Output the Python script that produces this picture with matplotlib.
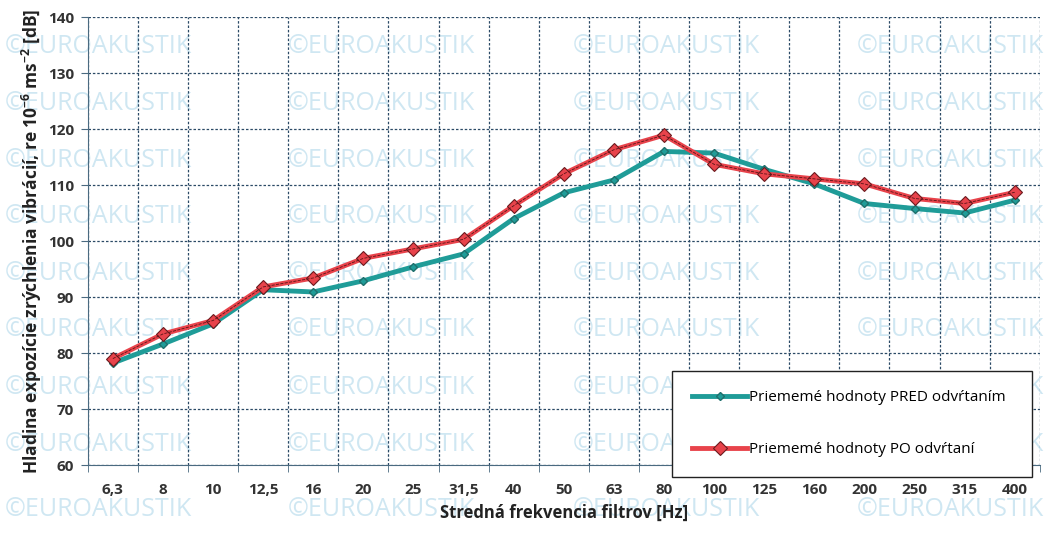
import numpy as np
import matplotlib
matplotlib.use('Agg')
import matplotlib.pyplot as plt

freq_labels = ['6,3', '8', '10', '12,5', '16', '20', '25', '31,5', '40', '50',
               '63', '80', '100', '125', '160', '200', '250', '315', '400']
pred = [78.2, 81.6, 85.2, 91.3, 90.9, 92.9, 95.4, 97.7, 104.0, 108.6,
        110.9, 116.0, 115.7, 112.8, 110.2, 106.7, 105.8, 105.0, 107.3]
po = [79.0, 83.4, 85.8, 91.8, 93.4, 96.9, 98.6, 100.3, 106.3, 112.0,
      116.3, 118.9, 113.7, 112.0, 111.1, 110.2, 107.6, 106.7, 108.7]

plt.rcParams['font.family'] = ['Open Sans', 'DejaVu Sans']
plt.rcParams['mathtext.default'] = 'regular'

fig = plt.figure(figsize=(10.45, 5.49), dpi=100)
ax = fig.add_axes([0.084, 0.153, 0.911, 0.816])

x = np.arange(len(freq_labels))

# watermark (faint, behind everything)
wm_cols = [0.005, 0.275, 0.548, 0.82]
wm_rows = [0.915, 0.812, 0.708, 0.605, 0.502, 0.399, 0.294, 0.19, 0.072]
for cx in wm_cols:
    for ry in wm_rows:
        fig.text(cx, ry, '\u00a9EUROAKUSTIK', fontsize=18, color='#c3e1ef',
                 alpha=0.8, va='center', ha='left', zorder=-1)

ax.plot(x, pred, color='#1f9c98', lw=3.5, marker='D', markersize=4,
        markerfacecolor='#1f9c98', markeredgecolor='#1f6f6c',
        label='Priememé hodnoty PRED odvŕtaním', zorder=3)
ax.plot(x, po, color='#e8434b', lw=3.5, marker='D', markersize=7,
        markerfacecolor='#e8434b', markeredgecolor='#6b1a1e', markeredgewidth=0.8,
        label='Priememé hodnoty PO odvŕtaní', zorder=4)
ax.plot(x, po, color='#5a1518', lw=0.6, ls='--', zorder=5)

ax.set_xlim(-0.5, len(freq_labels) - 0.5)
ax.set_ylim(60, 140)
ax.set_yticks(range(60, 141, 10))
ax.set_xticks(x)
ax.set_xticklabels(freq_labels)
ax.set_xticks(np.arange(-0.5, len(freq_labels), 1), minor=True)
ax.tick_params(axis='x', which='major', length=0, pad=13)
ax.tick_params(axis='x', which='minor', length=5, color='#4a6a80')
ax.tick_params(axis='y', length=5, color='#4a6a80', pad=5)
for lab in ax.get_xticklabels() + ax.get_yticklabels():
    lab.set_fontweight('bold')
    lab.set_fontsize(11)
    lab.set_color('#333333')

ax.grid(True, axis='y', which='major', ls=(0, (2, 1.5)), color='#2b4a66', lw=0.9)
ax.grid(True, axis='x', which='minor', ls=(0, (2, 1.5)), color='#2b4a66', lw=0.9)
ax.grid(False, axis='x', which='major')
ax.set_axisbelow(True)
ax.patch.set_alpha(0)
for s in ['top', 'right']:
    ax.spines[s].set_visible(False)
ax.spines['left'].set_color('#4a6a80')
ax.spines['bottom'].set_color('#4a6a80')

ax.set_ylabel('Hladina expozície zrýchlenia vibrácií, re 10$^{-6}$ ms$^{-2}$ [dB]',
              fontsize=12.5, fontweight='bold', color='#222222', labelpad=3)
ax.set_xlabel('Stredná frekvencia filtrov [Hz]', fontsize=12,
              fontweight='bold', color='#222222', labelpad=5)

leg = fig.legend(loc='upper left', bbox_to_anchor=(0.636, 0.12, 0.359, 0.219),
                 mode='expand', frameon=True, fancybox=False, fontsize=11,
                 handlelength=3.6, handletextpad=0.1, labelspacing=2.4,
                 borderpad=1.3)
leg.get_frame().set_edgecolor('#222222')
leg.get_frame().set_linewidth(1.0)
leg.get_frame().set_facecolor('white')
leg.get_frame().set_alpha(1)

plt.savefig('out.png', dpi=100)
